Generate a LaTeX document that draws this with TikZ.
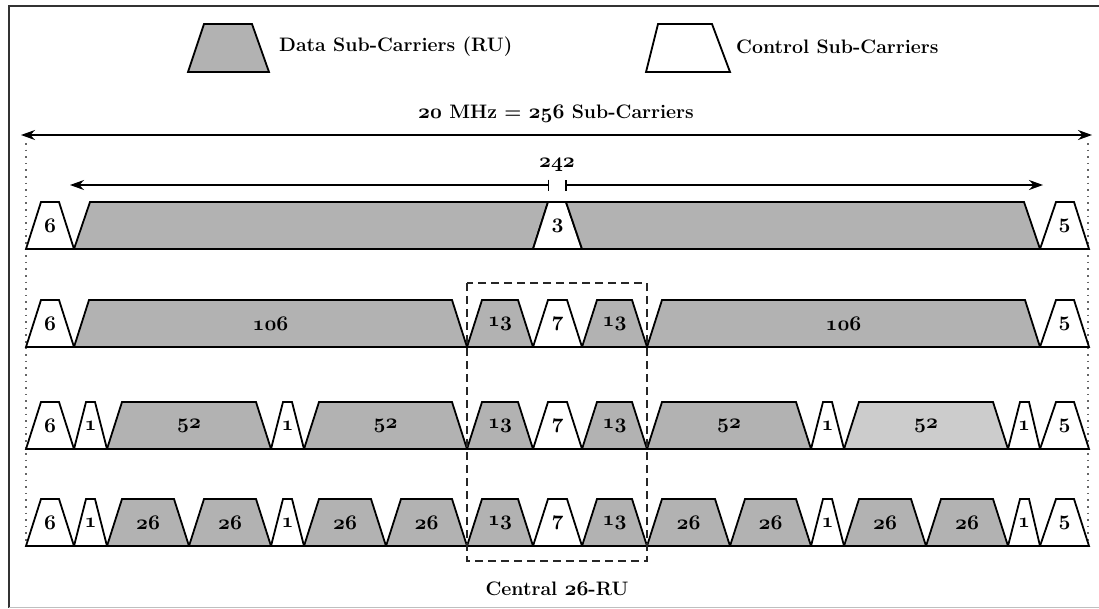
\documentclass[tikz,border=0pt]{standalone}
\usepackage{fontspec}
\usepackage{xcolor}
\usepackage{tikz}
\usetikzlibrary{arrows.meta}

\colorlet{rufill}{black!30}
\colorlet{rulite}{black!20}
\newcommand\figfont[1]{\fontsize{#1}{#1}\selectfont\bfseries}
% old-style figures from the bold math italic
\newcommand\osn[1]{{\boldmath$\mathnormal{#1}$}}

% one row of sub-carrier blocks: bottom y, list of bl/tl/tr/br/fill/label
\newcommand\carrierrow[2]{%
  \foreach \bl/\tl/\tr/\br/\col/\num [count=\k] in {#2} {
    \filldraw[carrier, fill=\col] (\bl,#1) -- (\tl,{#1-\rowh}) -- (\tr,{#1-\rowh}) -- (\br,#1) -- cycle;
    \node[lbl] (n#1-\k) at ({(\bl+\br)/2},{#1-\rowh/2}) {\osn{\num}};
  }%
}

\begin{document}
\begin{tikzpicture}[>={Stealth[length=14pt,width=10pt]}, x=1pt, y=-1pt,
    carrier/.style={draw=black, line width=1.8pt},
    lbl/.style={font=\figfont{21}, inner sep=0pt},
    title/.style={font=\figfont{19.5}, inner sep=0pt}]

\def\rowh{47}

\fill[white] (0,0) rectangle (1099,608);
\useasboundingbox (0,0) rectangle (1099,608);

% frame
\draw[black!80, line width=2.8pt] (1099,6) -- (9,6) -- (9,608);
\draw[black!25, line width=1pt] (9,607) -- (1099,607);

% ============================================================
% legend
% ============================================================

\filldraw[carrier, fill=rufill] (188,72) -- (204,24) -- (252,24) -- (269,72) -- cycle;
\node[title, anchor=west] (leg-data) at (279,47) {Data Sub-Carriers (RU)};
\filldraw[carrier, fill=white] (646,72) -- (658,24) -- (712,24) -- (730,72) -- cycle;
\node[title, anchor=west] (leg-ctrl) at (736,47) {Control Sub-Carriers};

% ============================================================
% bandwidth arrows
% ============================================================

\node[title] (bw) at (556,114) {\osn{20} MHz = \osn{256} Sub-Carriers};
\coordinate (bw-l) at (21,135);
\coordinate (bw-r) at (1092,135);
\draw[<->, line width=1.5pt] (bw-l) -- (bw-r);

\node[title] (used) at (557,165) {\osn{242}};
\coordinate (used-l) at (70,185);
\coordinate (used-r) at (1043,185);
\coordinate (gap-l) at (549,185);
\coordinate (gap-r) at (565,185);
\draw[{Bar[width=11pt]}->, line width=1.5pt] (gap-l) -- (used-l);
\draw[{Bar[width=11pt]}->, line width=1.5pt] (gap-r) -- (used-r);

\draw[black!60, line width=1.6pt, dash pattern=on 1.6pt off 5pt] (26,143) -- (26,548);
\draw[black!60, line width=1.6pt, dash pattern=on 1.6pt off 5pt] (1088,143) -- (1088,548);

% ============================================================
% rows
% ============================================================

\carrierrow{249}{26/41/59/74/white/6, 74/90/548/533/rufill/{}, 533/548/566/582/white/3,
  582/566/1024/1040/rufill/{}, 1040/1056/1074/1089/white/5}

\carrierrow{347}{26/41/59/74/white/6, 74/89/452/467/rufill/106, 467/482/518/533/rufill/13,
  533/548/567/582/white/7, 582/597/632/647/rufill/13, 647/662/1025/1040/rufill/106,
  1040/1056/1074/1089/white/5}

\carrierrow{449}{26/41/59/74/white/6, 74/86/95/107/white/1, 107/122/256/271/rufill/52,
  271/283/292/304/white/1, 304/319/452/467/rufill/52, 467/482/518/533/rufill/13,
  533/548/567/582/white/7, 582/597/632/647/rufill/13, 647/662/796/811/rufill/52,
  811/823/832/844/white/1, 844/859/993/1008/rulite/52, 1008/1020/1029/1040/white/1,
  1040/1056/1074/1089/white/5}

\carrierrow{546}{26/41/59/74/white/6, 74/86/95/107/white/1, 107/122/174/189/rufill/26,
  189/204/256/271/rufill/26, 271/283/292/304/white/1, 304/319/371/386/rufill/26,
  386/401/452/467/rufill/26, 467/482/518/533/rufill/13, 533/548/567/582/white/7,
  582/597/632/647/rufill/13, 647/662/715/730/rufill/26, 730/745/796/811/rufill/26,
  811/823/832/844/white/1, 844/859/911/926/rufill/26, 926/941/993/1008/rufill/26,
  1008/1020/1029/1040/white/1, 1040/1056/1074/1089/white/5}

% central 26-RU
\draw[black!85, line width=1.5pt, dash pattern=on 8pt off 5pt] (467,283) rectangle (647,561);
\node[title] (central) at (557,589) {Central \osn{26}-RU};

\end{tikzpicture}
\end{document}
